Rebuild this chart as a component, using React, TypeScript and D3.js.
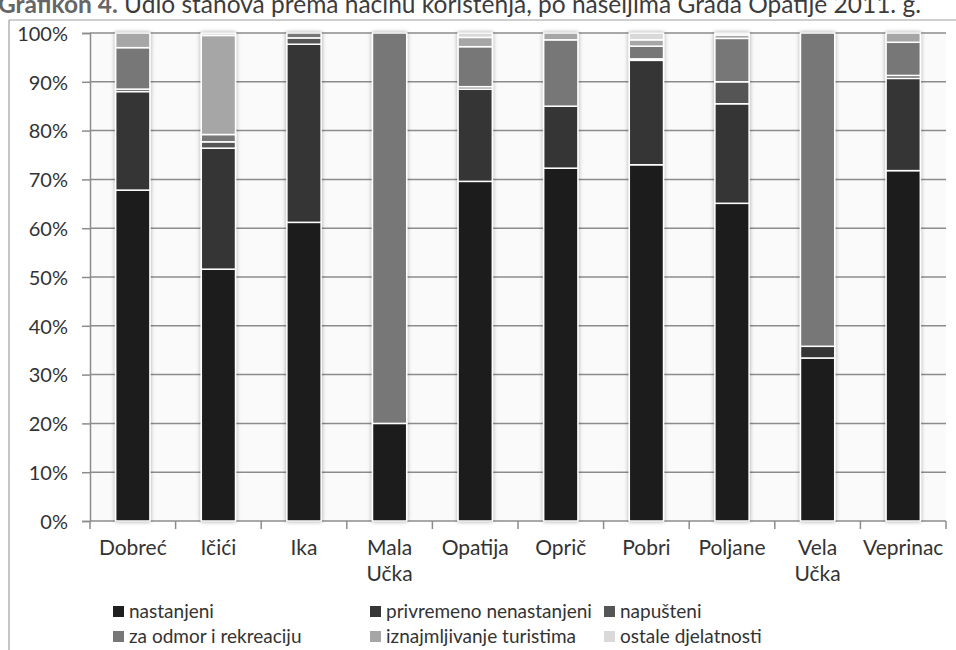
import { useEffect, useRef } from "react";
import * as d3 from "d3";

// Settlements (x categories) - "\n" splits two-line labels
const categories = [
    "Dobreć", "Ičići", "Ika", "Mala\nUčka", "Opatija",
    "Oprič", "Pobri", "Poljane", "Vela\nUčka", "Veprinac",
];

// Share of dwellings by type of use, in %
const nastanjeni = [67.8, 51.6, 61.2, 20.0, 69.6, 72.3, 73.0, 65.1, 33.4, 71.8];
const privremeno = [20.2, 24.8, 36.5, 0, 18.9, 12.7, 21.4, 20.4, 2.4, 18.9];
const napusteni = [0.5, 1.3, 1.3, 0, 0.5, 0, 0.3, 4.5, 0, 0.6];
const odmor = [8.5, 1.5, 1.0, 80.0, 8.2, 13.6, 2.6, 8.9, 64.2, 6.8];
const turisti = [3.0, 20.3, 0, 0, 1.9, 1.4, 1.3, 0.7, 0, 1.9];
const ostale = [0, 0.5, 0, 0, 0.9, 0, 1.4, 0.4, 0, 0];

const seriesNames = [
    "nastanjeni", "privremeno nenastanjeni", "napušteni",
    "za odmor i rekreaciju", "iznajmljivanje turistima", "ostale djelatnosti",
];
const seriesValues = [nastanjeni, privremeno, napusteni, odmor, turisti, ostale];
const colors = ["#1f1f1f", "#363636", "#555555", "#777777", "#a6a6a6", "#d9d9d9"];

const yTicks = [0, 10, 20, 30, 40, 50, 60, 70, 80, 90, 100];

const FONT = "Lato, 'Open Sans', sans-serif";
const TEXT = "#333333";

export default function App() {
    const svgRef = useRef<SVGSVGElement | null>(null);

    useEffect(() => {
        const width = 956;
        const height = 650;
        const m = { top: 33, right: 10, bottom: 129, left: 90 };

        const svg = d3.select(svgRef.current!).attr("width", width).attr("height", height);
        svg.selectAll("*").remove();

        // soft shadow around bars
        const defs = svg.append("defs");
        const f = defs.append("filter").attr("id", "barShadow")
            .attr("x", "-30%").attr("y", "-5%").attr("width", "160%").attr("height", "110%");
        f.append("feDropShadow")
            .attr("dx", 0).attr("dy", 0).attr("stdDeviation", 2)
            .attr("flood-color", "#000").attr("flood-opacity", 0.35);

        // outer frame (only the left/top edges are visible)
        svg.append("line").attr("x1", 9).attr("x2", 9).attr("y1", 20).attr("y2", height)
            .attr("stroke", "#a0a0a0").attr("stroke-width", 1.2);
        svg.append("line").attr("x1", 9).attr("x2", width).attr("y1", 20).attr("y2", 20)
            .attr("stroke", "#a0a0a0").attr("stroke-width", 1.2);

        // title, partly cut off at the top of the picture as in the source
        const title = svg.append("text")
            .attr("x", -2).attr("y", 13)
            .style("font-family", FONT)
            .style("font-size", "24.5px")
            .style("fill", "#3c3c3c");
        title.append("tspan").style("font-weight", 700).style("fill", "#666").text("Grafikon 4.");
        title.append("tspan").text(" Udio stanova prema načinu korištenja, po naseljima Grada Opatije 2011. g.");

        const x = d3.scaleBand<string>()
            .domain(categories)
            .range([m.left, width - m.right])
            .paddingInner(0.6)
            .paddingOuter(0.3);

        const y = d3.scaleLinear().domain([0, 100]).range([height - m.bottom, m.top]);

        // plot background
        svg.append("rect")
            .attr("x", m.left).attr("y", y(100))
            .attr("width", width - m.right - m.left).attr("height", y(0) - y(100))
            .attr("fill", "#fafafa");

        // gridlines
        svg.append("g").selectAll("line").data(yTicks.slice(1)).enter().append("line")
            .attr("x1", m.left).attr("x2", width - m.right)
            .attr("y1", (d) => y(d)).attr("y2", (d) => y(d))
            .attr("stroke", "#8c8c8c").attr("stroke-width", 1.5);

        // y axis
        const yAxis = svg.append("g").attr("transform", `translate(${m.left},0)`)
            .call(d3.axisLeft(y).tickValues(yTicks).tickSize(8).tickFormat((v) => `${v}%`));
        yAxis.select(".domain").attr("stroke", "#8c8c8c").attr("stroke-width", 1.5);
        yAxis.selectAll(".tick line").attr("stroke", "#8c8c8c").attr("stroke-width", 1.5);
        yAxis.selectAll(".tick text")
            .attr("x", -22).attr("dy", "0.36em")
            .style("font-family", FONT).style("font-size", "20px").style("fill", TEXT);

        // x axis: tick marks at category boundaries
        const bounds = d3.range(categories.length + 1).map((i) => m.left + i * x.step());
        const xg = svg.append("g");
        xg.append("line").attr("x1", m.left).attr("x2", width - m.right)
            .attr("y1", y(0)).attr("y2", y(0))
            .attr("stroke", "#8c8c8c").attr("stroke-width", 1.5);
        xg.selectAll("line.tk").data(bounds).enter().append("line").attr("class", "tk")
            .attr("x1", (d) => d).attr("x2", (d) => d)
            .attr("y1", y(0)).attr("y2", y(0) + 8)
            .attr("stroke", "#8c8c8c").attr("stroke-width", 1.5);

        // category labels
        const lab = xg.selectAll("text").data(categories).enter().append("text")
            .attr("x", (d) => x(d)! + x.bandwidth() / 2)
            .attr("y", y(0) + 34)
            .attr("text-anchor", "middle")
            .style("font-family", FONT).style("font-size", "21px").style("fill", TEXT);
        lab.each(function (d) {
            const t = d3.select(this);
            d.split("\n").forEach((part, i) => {
                t.append("tspan").attr("x", x(d)! + x.bandwidth() / 2)
                    .attr("dy", i === 0 ? 0 : 26).text(part);
            });
        });

        // stacked bars
        const rows = categories.map((c, i) => {
            const r: Record<string, number | string> = { cat: c };
            seriesNames.forEach((s, k) => (r[s] = seriesValues[k][i]));
            return r;
        });
        const stack = d3.stack<Record<string, number | string>>()
            .keys(seriesNames)
            .value((d, key) => d[key] as number);
        const layers = stack(rows);

        const barG = svg.append("g").attr("filter", "url(#barShadow)");
        layers.forEach((layer, k) => {
            barG.append("g").selectAll("rect")
                .data(layer.filter((d) => d[1] - d[0] > 0))
                .enter().append("rect")
                .attr("x", (d) => x(d.data.cat as string)!)
                .attr("y", (d) => y(d[1]))
                .attr("width", x.bandwidth())
                .attr("height", (d) => y(d[0]) - y(d[1]))
                .attr("fill", colors[k])
                .attr("stroke", "#ffffff")
                .attr("stroke-width", 1.5);
        });

        // legend - 3 columns x 2 rows
        const colX = [113, 370, 604];
        const rowY = [611, 636];
        const lg = svg.append("g");
        seriesNames.forEach((s, i) => {
            const cx = colX[i % 3];
            const cy = rowY[Math.floor(i / 3)];
            lg.append("rect").attr("x", cx).attr("y", cy - 5).attr("width", 11).attr("height", 11)
                .attr("fill", colors[i]);
            lg.append("text").attr("x", cx + 16).attr("y", cy).attr("dy", "0.36em")
                .style("font-family", FONT).style("font-size", "19px").style("fill", TEXT)
                .text(s);
        });
    }, []);

    return <svg ref={svgRef} style={{ position: "absolute", left: 0, top: 0 }} />;
}
